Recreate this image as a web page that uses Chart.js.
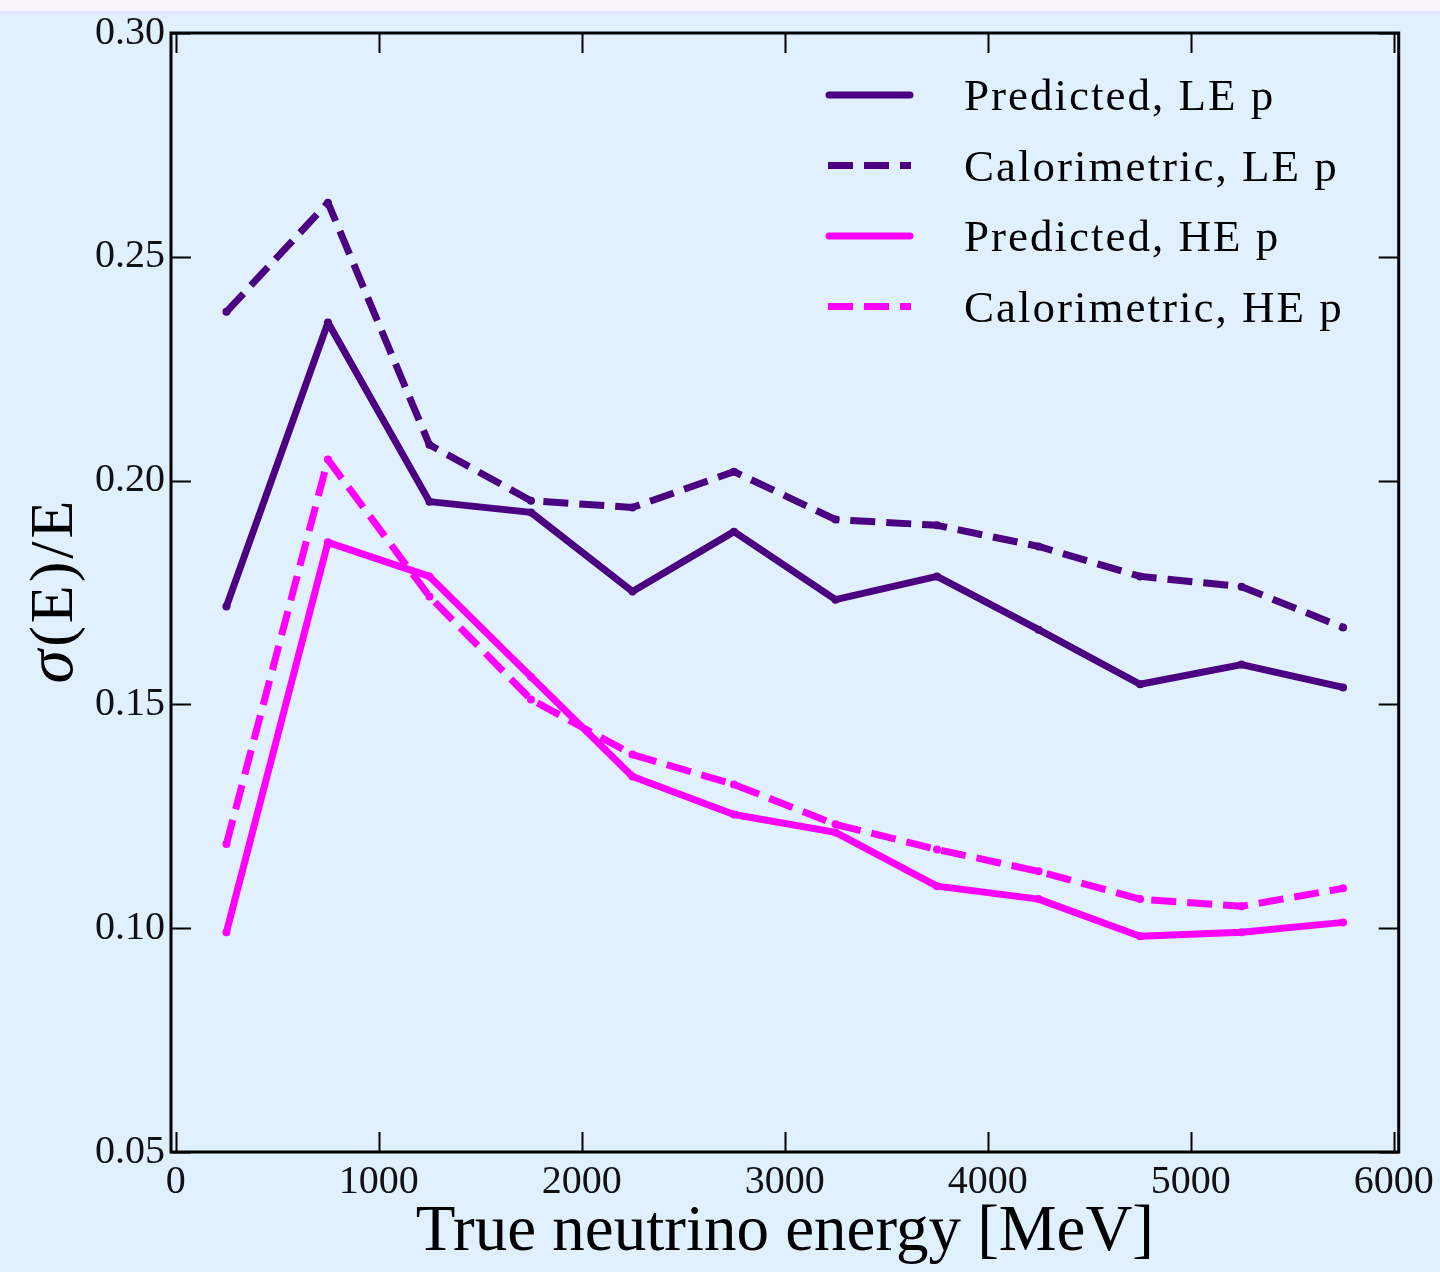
<!DOCTYPE html>
<html>
<head>
<meta charset="utf-8">
<script src="https://cdn.jsdelivr.net/npm/chart.js@4.4.0/dist/chart.umd.min.js"></script>
<style>
html, body { margin: 0; padding: 0; }
body {
  width: 1440px; height: 1272px;
  background: linear-gradient(to bottom, #f9f3fd 0, #f9f3fd 11px, #e3e6fa 11px, #e3e6fa 14px, #e0f0ff 14px);
}
canvas { display: block; }
</style>
</head>
<body>
<canvas id="chart" width="1440" height="1272"></canvas>
<script>
// true neutrino energy bin centres [MeV]
var energies = [250, 750, 1250, 1750, 2250, 2750, 3250, 3750, 4250, 4750, 5250, 5750];

// sigma(E)/E
var predLE = [0.1719, 0.2353, 0.1953, 0.1929, 0.1752, 0.1886, 0.1734, 0.1786, 0.1667, 0.1545, 0.1589, 0.1538];
var caloLE = [0.2377, 0.2621, 0.2080, 0.1955, 0.1940, 0.2020, 0.1913, 0.1900, 0.1853, 0.1786, 0.1763, 0.1672];
var predHE = [0.0991, 0.1862, 0.1786, 0.1562, 0.1339, 0.1254, 0.1214, 0.1094, 0.1065, 0.0982, 0.0991, 0.1013];
var caloHE = [0.1188, 0.2047, 0.1741, 0.1511, 0.1388, 0.1321, 0.1232, 0.1176, 0.1127, 0.1065, 0.1049, 0.1089];

var seriesNames = ["Predicted, LE p", "Calorimetric, LE p", "Predicted, HE p", "Calorimetric, HE p"];

var xTicks = [0, 1000, 2000, 3000, 4000, 5000, 6000];
var yTicks = [0.05, 0.10, 0.15, 0.20, 0.25, 0.30];

var INDIGO = "#4b0082";
var MAGENTA = "#ff00ff";
var DASH = [25, 11];
var SERIF = '"Liberation Serif", "DejaVu Serif", serif';

function pts(ys) {
  return energies.map(function (x, i) { return { x: x, y: ys[i] }; });
}

function ds(label, ys, color, dashed, order) {
  return {
    label: label,
    data: pts(ys),
    borderColor: color,
    backgroundColor: color,
    borderWidth: 7,
    borderDash: dashed ? DASH : [],
    borderCapStyle: "butt",
    borderJoinStyle: "round",
    pointRadius: 4,
    pointBorderWidth: 0,
    pointBackgroundColor: color,
    tension: 0,
    fill: false,
    order: order
  };
}

// frame + inward ticks on all four sides
var framePlugin = {
  id: "frame",
  afterDatasetsDraw: function (chart) {
    var ctx = chart.ctx, a = chart.chartArea;
    var xs = chart.scales.x, ys = chart.scales.y;
    ctx.save();
    ctx.strokeStyle = "#000";
    ctx.lineWidth = 2;
    ctx.beginPath();
    xTicks.forEach(function (v) {
      var px = Math.round(xs.getPixelForValue(v)) + 0.5;
      ctx.moveTo(px, a.bottom); ctx.lineTo(px, a.bottom - 20);
      ctx.moveTo(px, a.top); ctx.lineTo(px, a.top + 20);
    });
    yTicks.forEach(function (v) {
      var py = Math.round(ys.getPixelForValue(v)) + 0.5;
      ctx.moveTo(a.left, py); ctx.lineTo(a.left + 20, py);
      ctx.moveTo(a.right, py); ctx.lineTo(a.right - 20, py);
    });
    ctx.stroke();
    ctx.lineWidth = 3;
    ctx.strokeRect(a.left, a.top, a.right - a.left, a.bottom - a.top);
    ctx.restore();
  }
};

// y title: sigma(E)/E with italic sigma
var yTitlePlugin = {
  id: "ytitle",
  afterDraw: function (chart) {
    var ctx = chart.ctx;
    ctx.save();
    ctx.translate(72, 592);
    ctx.rotate(-Math.PI / 2);
    ctx.fillStyle = "#000";
    ctx.textBaseline = "alphabetic";
    var f1 = "italic 68px " + SERIF, f2 = "62px " + SERIF;
    ctx.font = f1; var w1 = ctx.measureText("\u03c3").width;
    ctx.font = f2;
    ctx.letterSpacing = "3px";
    var w2 = ctx.measureText("(E)/E").width;
    var x0 = -(w1 + w2) / 2;
    ctx.fillText("(E)/E", x0 + w1 + 3, 0);
    ctx.letterSpacing = "0px";
    ctx.font = f1; ctx.fillText("\u03c3", x0, 0);
    ctx.restore();
  }
};

// legend, upper right inside the axes
var legendPlugin = {
  id: "customLegend",
  afterDraw: function (chart) {
    var ctx = chart.ctx;
    ctx.save();
    chart.data.datasets.forEach(function (d, i) {
      var y = 95 + i * 70.5;
      var dashed = d.borderDash.length > 0;
      ctx.strokeStyle = d.borderColor;
      ctx.lineWidth = 7;
      ctx.setLineDash(d.borderDash);
      ctx.lineCap = dashed ? "butt" : "round";
      ctx.beginPath();
      ctx.moveTo(dashed ? 828 : 829, y);
      ctx.lineTo(dashed ? 911 : 910, y);
      ctx.stroke();
      ctx.setLineDash([]);
      ctx.fillStyle = "#000";
      ctx.font = "45px " + SERIF;
      ctx.letterSpacing = "2px";
      ctx.textBaseline = "alphabetic";
      ctx.fillText(d.label, 964, y + 15);
    });
    ctx.restore();
  }
};

var myChart = new Chart("chart", {
  type: "line",
  data: {
    datasets: [
      ds(seriesNames[0], predLE, INDIGO, false, 4),
      ds(seriesNames[1], caloLE, INDIGO, true, 3),
      ds(seriesNames[2], predHE, MAGENTA, false, 2),
      ds(seriesNames[3], caloHE, MAGENTA, true, 1)
    ]
  },
  options: {
    responsive: false,
    animation: false,
    devicePixelRatio: 1,
    layout: { padding: { top: 33, right: 41, left: 0, bottom: 0 } },
    plugins: {
      legend: { display: false },
      tooltip: { enabled: false }
    },
    scales: {
      x: {
        type: "linear",
        min: -23,
        max: 6024,
        afterBuildTicks: function (s) { s.ticks = xTicks.map(function (v) { return { value: v }; }); },
        afterFit: function (s) { s.height = 120; },
        grid: { display: false, drawTicks: false },
        border: { display: false },
        ticks: {
          padding: 6,
          color: "#111",
          font: { family: SERIF, size: 40 },
          maxRotation: 0,
          callback: function (v) { return String(v); }
        },
        title: {
          display: true,
          text: "True neutrino energy [MeV]",
          color: "#000",
          font: { family: SERIF, size: 65 },
          padding: { top: 0, bottom: 0 }
        }
      },
      y: {
        min: 0.05,
        max: 0.30,
        afterBuildTicks: function (s) { s.ticks = yTicks.map(function (v) { return { value: v }; }); },
        afterFit: function (s) { s.width = 171; },
        grid: { display: false, drawTicks: false },
        border: { display: false },
        ticks: {
          padding: 6,
          color: "#111",
          font: { family: SERIF, size: 40 },
          callback: function (v) { return Number(v).toFixed(2); }
        }
      }
    }
  },
  plugins: [framePlugin, yTitlePlugin, legendPlugin]
});
</script>
</body>
</html>
